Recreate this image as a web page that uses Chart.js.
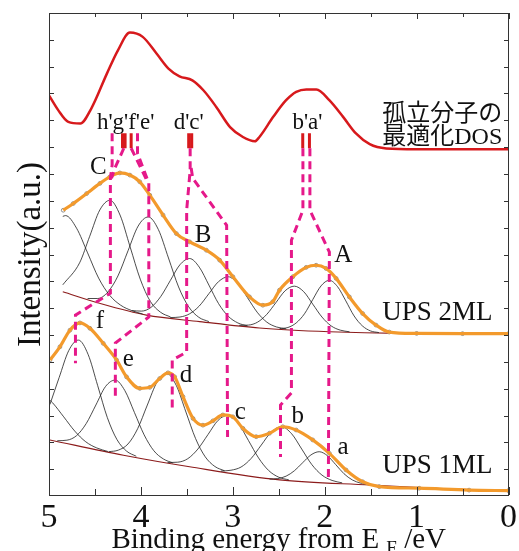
<!DOCTYPE html>
<html>
<head>
<meta charset="utf-8">
<title>UPS spectra</title>
<script src="https://cdn.jsdelivr.net/npm/chart.js@4.4.0/dist/chart.umd.min.js"></script>
<style>
  html, body { margin: 0; padding: 0; background: #fff; }
</style>
</head>
<body>
<canvas id="upsChart" width="519" height="551"></canvas>
<script>
// pick the first installed serif face by measuring against monospace
function pickFont(cands) {
  const c = document.createElement('canvas').getContext('2d');
  const probe = 'Binding energy mwil 0123';
  c.font = '40px monospace';
  const base = c.measureText(probe).width;
  for (const f of cands) {
    c.font = '40px "' + f + '", monospace';
    if (Math.abs(c.measureText(probe).width - base) > 0.5) return '"' + f + '"';
  }
  return 'serif';
}
const SERIF_FACE = pickFont(['Liberation Serif', 'Tinos', 'Times New Roman', 'DejaVu Serif', 'Noto Serif', 'FreeSerif', 'Nimbus Roman']);
const SERIF = SERIF_FACE + ', serif';
const JP = SERIF_FACE + ', "Noto Sans CJK JP", serif';

// binding energy ticks (eV), axis runs 5 -> 0
const energyTicks = [5, 4, 3, 2, 1, 0];

// calculated DOS of the isolated molecule
const dosCurve = [
  [5.0, 14.93], [4.90, 14.38], [4.79, 13.94], [4.66, 13.88], [4.54, 14.44], [4.37, 15.74],
  [4.25, 16.61], [4.12, 17.27], [3.98, 17.11], [3.83, 16.49], [3.70, 15.93], [3.58, 15.64],
  [3.44, 15.49], [3.32, 15.12], [3.18, 14.50], [3.03, 13.75], [2.89, 13.38], [2.76, 13.22],
  [2.71, 13.38], [2.56, 14.13], [2.42, 14.75], [2.31, 15.06], [2.20, 15.15], [2.09, 15.15],
  [1.95, 14.75], [1.80, 14.13], [1.66, 13.51], [1.51, 13.11], [1.33, 12.95], [1.0, 12.92], [0, 12.92]
];
// DOS level markers h'..a'
const dosBars = [4.200, 4.172, 4.106, 3.480, 3.447, 2.239, 2.166];
const dosBarSpan = [13.52, 12.96];

// UPS 2ML: fitted envelope, background, components
const ups2 = [
  [4.845, 10.65], [4.736, 10.90], [4.591, 11.27], [4.446, 11.65], [4.338, 11.89], [4.229, 12.04],
  [4.12, 11.96], [4.012, 11.71], [3.903, 11.21], [3.759, 10.47], [3.614, 9.78], [3.469, 9.47],
  [3.288, 9.16], [3.143, 8.79], [2.999, 8.17], [2.818, 7.42], [2.673, 7.11], [2.565, 7.24],
  [2.492, 7.67], [2.347, 8.17], [2.202, 8.52], [2.093, 8.60], [1.985, 8.48], [1.876, 8.11],
  [1.732, 7.42], [1.587, 6.80], [1.442, 6.37], [1.298, 6.11], [1.0, 6.06], [0.5, 6.05], [0, 6.05]
];
const bg2 = [[4.85, 7.61], [4.45, 7.18], [3.94, 6.74], [3.36, 6.50], [2.71, 6.26], [1.95, 6.12], [1.19, 6.06], [0, 6.05]];
const g2a = [[4.85, 10.42], [4.82, 10.45], [4.70, 9.98], [4.58, 9.06], [4.46, 8.12], [4.34, 7.48], [4.22, 7.11], [4.10, 6.91], [3.98, 6.78]];
const g2b = [[4.85, 7.87], [4.667, 8.69], [4.557, 9.68], [4.447, 10.66], [4.337, 11.02], [4.227, 10.47], [4.117, 9.28], [4.007, 8.08], [3.897, 7.25], [3.787, 6.85], [3.677, 6.67]];
const g2c = [[4.58, 7.36], [4.47, 7.36], [4.36, 7.60], [4.25, 8.20], [4.14, 9.14], [4.03, 10.06], [3.92, 10.40], [3.81, 9.93], [3.70, 8.87], [3.59, 7.79], [3.48, 7.05], [3.37, 6.66], [3.26, 6.50]];
const g2d = [[4.10, 6.91], [3.995, 6.89], [3.89, 7.03], [3.785, 7.43], [3.68, 8.03], [3.575, 8.62], [3.47, 8.85], [3.365, 8.53], [3.26, 7.86], [3.155, 7.17], [3.05, 6.70], [2.945, 6.45], [2.84, 6.34]];
const g2e = [[3.68, 6.65], [3.575, 6.67], [3.47, 6.79], [3.365, 7.08], [3.26, 7.54], [3.155, 7.99], [3.05, 8.17], [2.945, 7.92], [2.84, 7.39], [2.735, 6.85], [2.63, 6.48], [2.525, 6.30], [2.42, 6.23]];
const g2f = [[2.93, 6.36], [2.83, 6.37], [2.73, 6.48], [2.63, 6.77], [2.53, 7.21], [2.43, 7.65], [2.33, 7.82], [2.23, 7.62], [2.13, 7.15], [2.03, 6.67], [1.93, 6.34], [1.83, 6.18], [1.73, 6.12]];
const g2g = [[2.49, 6.24], [2.40, 6.28], [2.31, 6.45], [2.22, 6.79], [2.13, 7.32], [2.04, 7.83], [1.95, 8.04], [1.86, 7.80], [1.77, 7.27], [1.68, 6.71], [1.59, 6.34], [1.50, 6.15], [1.41, 6.09]];

// UPS 1ML
const ups1 = [
  [4.989, 5.07], [4.881, 5.56], [4.772, 6.18], [4.664, 6.45], [4.555, 6.25], [4.41, 5.69],
  [4.265, 5.07], [4.156, 4.44], [4.012, 4.01], [3.903, 4.05], [3.795, 4.38], [3.705, 4.59],
  [3.632, 4.44], [3.542, 3.70], [3.433, 2.89], [3.325, 2.64], [3.216, 2.80], [3.108, 3.02],
  [2.999, 2.95], [2.89, 2.52], [2.745, 2.21], [2.6, 2.34], [2.456, 2.58], [2.311, 2.46],
  [2.13, 2.09], [1.949, 1.59], [1.768, 0.97], [1.587, 0.53], [1.406, 0.35], [0.972, 0.29],
  [0.429, 0.22], [0, 0.20]
];
const bg1 = [[4.99, 2.09], [4.19, 1.52], [3.47, 1.09], [2.49, 0.60], [1.51, 0.41], [0.75, 0.28], [0, 0.20]];
const g1a = [[5.0, 3.60], [4.96, 3.47], [4.84, 2.95], [4.72, 2.42], [4.60, 2.02], [4.48, 1.79], [4.36, 1.66]];
const g1b = [[4.99, 3.41], [4.89, 4.41], [4.785, 5.42], [4.68, 5.81], [4.575, 5.28], [4.47, 4.11], [4.365, 2.92], [4.26, 2.10], [4.155, 1.67], [4.05, 1.48]];
const g1c = [[4.91, 2.06], [4.805, 2.08], [4.70, 2.25], [4.595, 2.70], [4.49, 3.39], [4.385, 4.08], [4.28, 4.32], [4.175, 3.93], [4.07, 3.11], [3.965, 2.28], [3.86, 1.69], [3.755, 1.38], [3.65, 1.23]];
const g1d = [[4.35, 1.65], [4.245, 1.71], [4.14, 1.94], [4.035, 2.51], [3.93, 3.39], [3.825, 4.24], [3.72, 4.57], [3.615, 4.12], [3.51, 3.13], [3.405, 2.14], [3.30, 1.46], [3.195, 1.10], [3.09, 0.94]];
const g1e = [[3.71, 1.25], [3.60, 1.26], [3.49, 1.39], [3.38, 1.75], [3.27, 2.29], [3.16, 2.82], [3.05, 3.02], [2.94, 2.71], [2.83, 2.07], [2.72, 1.42], [2.61, 0.95], [2.50, 0.70], [2.39, 0.60]];
const g1f = [[3.13, 0.93], [3.02, 0.96], [2.91, 1.08], [2.80, 1.40], [2.69, 1.90], [2.58, 2.39], [2.47, 2.58], [2.36, 2.32], [2.25, 1.75], [2.14, 1.17], [2.03, 0.78], [1.92, 0.58], [1.81, 0.49]];
const g1g = [[2.60, 0.63], [2.51, 0.65], [2.42, 0.74], [2.33, 0.94], [2.24, 1.24], [2.15, 1.53], [2.06, 1.65], [1.97, 1.50], [1.88, 1.17], [1.79, 0.83], [1.70, 0.60], [1.61, 0.48], [1.52, 0.42]];

// correlation guides DOS level -> 2ML peak -> 1ML peak
const linkH = [[4.313, 13.52], [4.313, 12.33], [4.332, 11.84], [4.332, 7.56], [4.712, 6.74], [4.712, 4.95]];
const linkG = [[4.186, 12.96], [4.283, 12.22], [4.32, 11.84]];
const linkF = [[4.106, 12.96], [3.936, 11.77]];
const linkE = [[4.037, 13.52], [4.037, 12.77], [3.914, 11.66], [3.914, 6.67], [4.278, 5.70], [4.278, 3.69]];
const linkD = [[3.464, 12.96], [3.464, 12.14], [3.502, 10.65], [3.502, 5.36], [3.659, 5.07], [3.659, 3.20]];
const linkC = [[3.453, 12.22], [3.436, 11.84], [3.067, 10.09], [3.057, 2.20]];
const linkB = [[2.237, 12.96], [2.237, 10.65], [2.362, 9.53], [2.362, 3.84], [2.481, 3.39], [2.481, 1.45]];
const linkA = [[2.161, 12.96], [2.161, 10.65], [1.949, 9.09], [1.96, 0.60]];

// text labels placed in data units
const notes = [
  { t: "h'g'f'e'", x: 4.479, y: 13.67, size: 23 },
  { t: "d'c'", x: 3.643, y: 13.67, size: 23 },
  { t: "b'a'", x: 2.351, y: 13.67, size: 23 },
  { t: '孤立分子の', x: 1.374, y: 13.96, size: 24, jp: true },
  { t: '最適化DOS', x: 1.374, y: 13.11, size: 24, jp: true },
  { t: 'C', x: 4.555, y: 11.99, size: 25 },
  { t: 'B', x: 3.415, y: 9.46, size: 25 },
  { t: 'A', x: 1.895, y: 8.72, size: 25 },
  { t: 'UPS 2ML', x: 1.374, y: 6.55, size: 27 },
  { t: 'UPS 1ML', x: 1.374, y: 0.86, size: 27 },
  { t: 'f', x: 4.490, y: 6.26, size: 25 },
  { t: 'e', x: 4.197, y: 4.84, size: 25 },
  { t: 'd', x: 3.578, y: 4.25, size: 25 },
  { t: 'c', x: 2.980, y: 2.87, size: 25 },
  { t: 'b', x: 2.362, y: 2.72, size: 25 },
  { t: 'a', x: 1.862, y: 1.56, size: 25 }
];

const toXY = pts => pts.map(p => ({ x: p[0], y: p[1] }));

function curve(pts, color, width, extra) {
  return Object.assign({
    data: toXY(pts), borderColor: color, borderWidth: width,
    pointRadius: 0, fill: false, cubicInterpolationMode: 'monotone'
  }, extra || {});
}

const MAGENTA = '#e5198a';
const dashed = pts => curve(pts, MAGENTA, 3, { cubicInterpolationMode: 'default', tension: 0, borderDash: [8, 5] });

// red level markers, separated by gaps
const barPoints = [];
dosBars.forEach(e => {
  barPoints.push({ x: e, y: dosBarSpan[0] }, { x: e, y: dosBarSpan[1] }, { x: e, y: null });
});

const dots = pts => ({
  data: toXY(pts), showLine: false, pointRadius: 1.9, pointBorderWidth: 0.7,
  pointBorderColor: '#666', pointBackgroundColor: '#fff'
});

// first dataset ends up on top
const datasets = [
  dashed(linkH), dashed(linkG), dashed(linkF), dashed(linkE),
  dashed(linkD), dashed(linkC), dashed(linkB), dashed(linkA),
  { data: barPoints, borderColor: '#d7191c', borderWidth: 3, pointRadius: 0, spanGaps: false, tension: 0 },
  curve(ups2, '#f39a2c', 3.2), curve(ups1, '#f39a2c', 3.2),
  dots(ups2), dots(ups1),
  ...[g2a, g2b, g2c, g2d, g2e, g2f, g2g, g1a, g1b, g1c, g1d, g1e, g1f, g1g].map(g => curve(g, '#1e1e1e', 0.8)),
  curve(bg2, '#8c1c1c', 1.1), curve(bg1, '#8c1c1c', 1.1),
  curve(dosCurve, '#d7191c', 2.5)
];

const frameAndText = {
  id: 'frameAndText',
  afterDraw(chart) {
    const { ctx, chartArea: a, scales: { x, y } } = chart;
    const L = Math.round(a.left), R = Math.round(a.right) - 1;
    const T = Math.round(a.top), B = Math.round(a.bottom) - 1;
    ctx.save();
    ctx.globalAlpha = 1;
    ctx.fillStyle = '#333';
    // plot frame as solid 1px bands
    ctx.fillRect(L, T, R - L + 1, 1);
    ctx.fillRect(L, B, R - L + 1, 1);
    ctx.fillRect(L, T, 1, B - T + 1);
    ctx.fillRect(R, T, 1, B - T + 1);

    // inward ticks
    for (let v = 0; v <= 5.001; v += 0.5) {
      const px = Math.round(x.getPixelForValue(v));
      const major = Math.abs(v - Math.round(v)) < 1e-6;
      const lb = major ? 8 : 6, lt = major ? 6 : 4;
      ctx.fillRect(px, B - lb, 1, lb);
      ctx.fillRect(px, T, 1, lt);
    }
    for (let v = 1; v < 18; v++) {
      const py = Math.round(y.getPixelForValue(v));
      ctx.fillRect(L, py, 5, 1);
      ctx.fillRect(R - 4, py, 5, 1);
    }

    ctx.fillStyle = '#111';
    ctx.textAlign = 'left';
    ctx.textBaseline = 'alphabetic';
    notes.forEach(n => {
      ctx.font = n.size + 'px ' + (n.jp ? JP : SERIF);
      ctx.fillText(n.t, x.getPixelForValue(n.x), y.getPixelForValue(n.y));
    });

    // y axis title
    ctx.save();
    ctx.translate(31, (a.top + a.bottom) / 2);
    ctx.rotate(-Math.PI / 2);
    ctx.textAlign = 'center';
    ctx.textBaseline = 'middle';
    ctx.font = '33px ' + SERIF;
    ctx.fillText('Intensity(a.u.)', 0, 0);
    ctx.restore();

    // x axis title with subscript F
    const big = '29px ' + SERIF, small = '19px ' + SERIF;
    const p1 = 'Binding energy from E ', p2 = 'F', p3 = ' /eV';
    ctx.font = big; const w1 = ctx.measureText(p1).width, w3 = ctx.measureText(p3).width;
    ctx.font = small; const w2 = ctx.measureText(p2).width;
    let tx = (a.left + a.right) / 2 - (w1 + w2 + w3) / 2;
    const base = 548;
    ctx.font = big; ctx.fillText(p1, tx, base); tx += w1;
    ctx.font = small; ctx.fillText(p2, tx, base + 6); tx += w2;
    ctx.font = big; ctx.fillText(p3, tx, base);
    ctx.restore();
  }
};

new Chart(document.getElementById('upsChart').getContext('2d'), {
  type: 'line',
  data: { datasets },
  options: {
    responsive: false,
    animation: false,
    layout: { padding: { left: 49, right: 9.5, top: 13, bottom: 0 } },
    plugins: { legend: { display: false }, tooltip: { enabled: false } },
    scales: {
      x: {
        type: 'linear', reverse: true, min: 0, max: 5,
        grid: { display: false, drawTicks: false },
        border: { display: false },
        afterBuildTicks: s => { s.ticks = energyTicks.map(v => ({ value: v })); },
        ticks: { font: { family: SERIF, size: 34 }, color: '#111', padding: 2, maxRotation: 0, autoSkip: false },
        afterFit: s => { s.height = 55; }
      },
      y: { display: false, min: 0, max: 18 }
    }
  },
  plugins: [frameAndText]
});
</script>
</body>
</html>
